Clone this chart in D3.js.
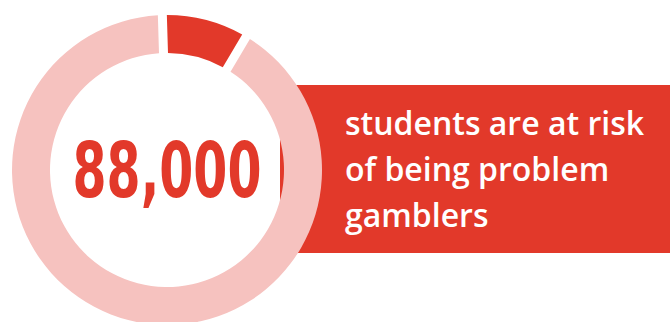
<!DOCTYPE html>
<html>
<head>
<meta charset="utf-8">
<script src="https://cdn.jsdelivr.net/npm/d3@7"></script>
<style>
  html, body { margin: 0; padding: 0; background: #ffffff; }
  svg { display: block; }
</style>
</head>
<body>
<div id="chart"></div>
<script>
// Share of students at risk versus the rest (percent of the ring)
const segments = ["At risk of problem gambling", "Other students"];
const shares = [9, 91];
const headline = "88,000";
const captionLines = ["students are at risk", "of being problem", "gamblers"];

const colours = {
  red: "#e2392a",
  pink: "#f6c2bf",
  white: "#ffffff"
};

const width = 670, height = 322;
const cx = 167, cy = 170;
const outerR = 155, innerR = 117;

const svg = d3.select("#chart").append("svg")
  .attr("width", width)
  .attr("height", height);

// Caption panel sitting behind the right side of the ring
svg.append("rect")
  .attr("x", 280)
  .attr("y", 85)
  .attr("width", width - 280)
  .attr("height", 168)
  .attr("fill", colours.red);

const colour = d3.scaleOrdinal().domain(segments).range([colours.red, colours.pink]);

// Angles follow the shares exactly; the gap is cut out by the arc generator
const pie = d3.pie()
  .sort(null)
  .startAngle(-0.03)
  .endAngle(2 * Math.PI - 0.03)
  .value((d, i) => shares[i]);

const arc = d3.arc()
  .innerRadius(innerR)
  .outerRadius(outerR)
  .padAngle(0.09)
  .padRadius(100);

const ring = svg.append("g").attr("transform", `translate(${cx},${cy})`);

ring.selectAll("path")
  .data(pie(segments))
  .join("path")
  .attr("d", arc)
  .attr("fill", d => colour(d.data));

ring.append("text")
  .attr("x", 0)
  .attr("y", 27)
  .attr("text-anchor", "middle")
  .attr("font-family", "'Liberation Sans Narrow', 'DejaVu Sans Condensed', 'Roboto', sans-serif")
  .attr("font-weight", "bold")
  .attr("font-size", 76)
  .attr("textLength", 189)
  .attr("lengthAdjust", "spacingAndGlyphs")
  .attr("fill", colours.red)
  .text(headline);

const caption = svg.append("text")
  .attr("font-family", "'Open Sans', 'Lato', sans-serif")
  .attr("font-weight", 600)
  .attr("font-size", 32)
  .attr("fill", colours.white);

caption.selectAll("tspan")
  .data(captionLines)
  .join("tspan")
  .attr("x", 345)
  .attr("y", (d, i) => 135 + i * 45.8)
  .text(d => d);
</script>
</body>
</html>
